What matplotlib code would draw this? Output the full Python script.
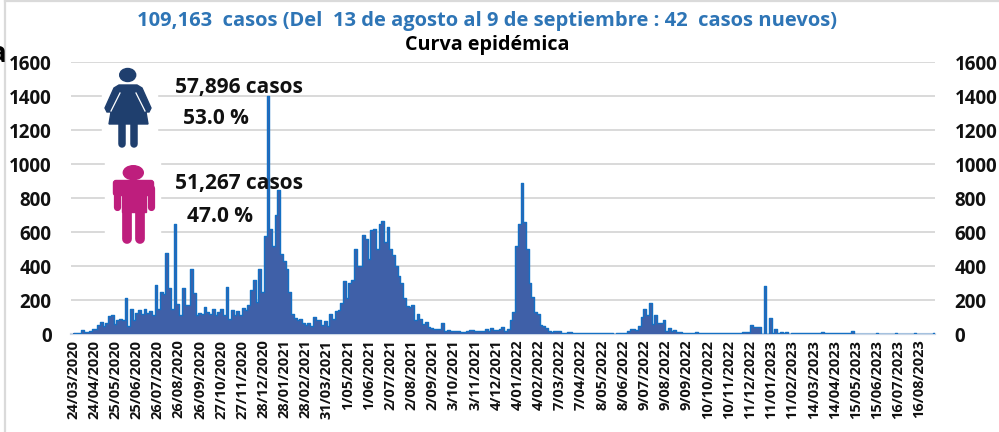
import numpy as np
import matplotlib
matplotlib.use("Agg")
import matplotlib.pyplot as plt
from matplotlib.patches import Ellipse, Polygon, Rectangle, FancyBboxPatch

# casos in steps of 4 days
casos = [
    5, 8, 3, 22, 10, 10, 20, 28, 28, 55,
    70, 45, 65, 105, 112, 60, 85, 90, 80, 210,
    45, 145, 85, 125, 140, 115, 150, 125, 135, 110,
    290, 145, 250, 235, 475, 270, 150, 650, 175, 110,
    270, 170, 170, 385, 240, 110, 125, 120, 160, 130,
    120, 150, 110, 130, 150, 110, 275, 90, 140, 110,
    135, 110, 155, 140, 170, 260, 320, 190, 385, 250,
    575, 1400, 620, 520, 700, 850, 470, 430, 380, 250,
    115, 95, 85, 90, 65, 55, 65, 45, 100, 85,
    85, 55, 75, 50, 120, 90, 135, 140, 185, 310,
    210, 300, 320, 500, 400, 400, 580, 560, 440, 610,
    620, 500, 650, 665, 540, 630, 500, 465, 400, 340,
    300, 210, 165, 160, 170, 80, 115, 90, 60, 70,
    40, 35, 30, 30, 30, 65, 20, 22, 20, 18,
    15, 15, 14, 14, 20, 24, 22, 20, 15, 20,
    18, 30, 15, 35, 25, 25, 30, 40, 15, 30,
    80, 130, 520, 650, 890, 660, 500, 300, 220, 130,
    120, 55, 50, 35, 20, 12, 20, 15, 15, 8,
    5, 10, 10, 8, 8, 5, 8, 6, 5, 4,
    6, 5, 8, 5, 4, 3, 3, 4, 2, 3,
    3, 4, 6, 15, 27, 27, 25, 50, 100, 150,
    110, 180, 60, 110, 65, 62, 80, 15, 35, 20,
    25, 12, 12, 8, 6, 5, 4, 4, 12, 4,
    3, 3, 3, 4, 5, 4, 3, 4, 4, 4,
    3, 4, 5, 6, 8, 12, 12, 10, 52, 40,
    40, 40, 0, 285, 0, 92, 5, 27, 4, 10,
    3, 10, 2, 3, 4, 3, 4, 3, 3, 4,
    3, 4, 3, 3, 10, 5, 3, 5, 3, 4,
    3, 3, 4, 8, 4, 15, 0, 0, 0, 0,
    0, 0, 0, 0, 6, 0, 0, 0, 0, 0,
    0, 6, 0, 0, 0, 0, 0, 0, 6, 0,
    0, 0, 0, 0, 0, 8,
]

fechas = [
    "24/03/2020", "24/04/2020", "25/05/2020", "25/06/2020", "26/07/2020", "26/08/2020",
    "26/09/2020", "27/10/2020", "27/11/2020", "28/12/2020", "28/01/2021", "28/02/2021",
    "31/03/2021", "1/05/2021", "1/06/2021", "2/07/2021", "2/08/2021", "2/09/2021",
    "3/10/2021", "3/11/2021", "4/12/2021", "4/01/2022", "4/02/2022", "7/03/2022",
    "7/04/2022", "8/05/2022", "8/06/2022", "9/07/2022", "9/08/2022", "9/09/2022",
    "10/10/2022", "10/11/2022", "11/12/2022", "11/01/2023", "11/02/2023", "14/03/2023",
    "14/04/2023", "15/05/2023", "15/06/2023", "16/07/2023", "16/08/2023",
]
yticks = [0, 200, 400, 600, 800, 1000, 1200, 1400, 1600]

titulo = "109,163  casos (Del  13 de agosto al 9 de septiembre : 42  casos nuevos)"
subtitulo = "Curva epidémica"

plt.rcParams["font.family"] = ["Open Sans", "DejaVu Sans"]
plt.rcParams["font.weight"] = "bold"

W, H = 999, 432
fig = plt.figure(figsize=(W / 100, H / 100), dpi=100, facecolor="white")

# plot area in pixels: x 71-935, y 62-334
ax = fig.add_axes([71 / W, (H - 334) / H, 864 / W, 272 / H])
dias = np.arange(len(casos)) * 4 + 1.5
ax.bar(dias, casos, width=4, color="#3F60A8", linewidth=0, zorder=3)
ax.step(dias, casos, where="mid", color="#1470C4", linewidth=1.0, zorder=4)

ax.set_xlim(-2.9, 1262.6)
ax.set_ylim(0, 1600)
ax.set_yticks(yticks)
ax.set_xticks(np.arange(len(fechas)) * 31)
ax.set_xticklabels(fechas, rotation=90, fontsize=10.5, fontweight="bold", color="#111111")
ax.tick_params(axis="x", length=0, pad=4)
ax.tick_params(axis="y", length=0, labelleft=True, labelright=True, labelsize=13.5, pad=14, labelcolor="#111111")
ax.grid(axis="y", color="#D9D9D9", linewidth=1.4, zorder=1)
ax.set_axisbelow(True)
for s in ax.spines.values():
    s.set_visible(False)
ax.axhline(0, color="#C9D6E6", linewidth=1.6, zorder=2, clip_on=False)

# overlay in image pixels for icons, text and the frame
ov = fig.add_axes([0, 0, 1, 1], facecolor="none")
ov.set_xlim(0, W)
ov.set_ylim(H, 0)
ov.axis("off")

# frame remains of the pasted slide
ov.plot([5, 5], [0, H], color="#DADADA", linewidth=1.6)
ov.plot([5, W], [0.8, 0.8], color="#DADADA", linewidth=1.6)

# white boxes behind the icons
ov.add_patch(Rectangle((102, 65), 55, 87, color="white", zorder=2))
ov.add_patch(Rectangle((105, 160), 55, 88, color="white", zorder=2))

# woman
azul = "#1F3F6E"
ov.add_patch(Ellipse((127.7, 75), 16, 13, color=azul, zorder=3))
ov.add_patch(Polygon([(119, 85), (137, 85), (142, 88), (151, 108), (149, 112), (146, 112), (148, 124),
                      (109, 124), (111, 112), (107, 112), (105, 108), (114, 88)],
                     closed=True, color=azul, zorder=3))
ov.plot([122, 122], [122, 144], color=azul, linewidth=5.4, solid_capstyle="round", zorder=3)
ov.plot([134, 134], [122, 144], color=azul, linewidth=5.4, solid_capstyle="round", zorder=3)
ov.plot([120, 111], [93, 111], color="white", linewidth=0.9, zorder=4)
ov.plot([136, 145], [93, 111], color="white", linewidth=0.9, zorder=4)

# man
rosa = "#BE1E7D"
ov.add_patch(Ellipse((133.3, 172.7), 20, 14, color=rosa, zorder=3))
ov.add_patch(FancyBboxPatch((116, 183), 35, 10, boxstyle="round,pad=2.5", color=rosa, zorder=3))
ov.add_patch(Rectangle((122, 186), 23.5, 26, color=rosa, zorder=3))
ov.plot([117, 117], [188, 207], color=rosa, linewidth=5.2, solid_capstyle="round", zorder=3)
ov.plot([150.5, 150.5], [188, 207], color=rosa, linewidth=5.2, solid_capstyle="round", zorder=3)
ov.plot([127.3, 127.3], [208, 239], color=rosa, linewidth=7, solid_capstyle="round", zorder=3)
ov.plot([140, 140], [208, 239], color=rosa, linewidth=7, solid_capstyle="round", zorder=3)

# texts
ov.text(487, 21, titulo, color="#2E75B6", fontsize=14.5, ha="center", va="center", zorder=6)
ov.text(487, 45, subtitulo, color="black", fontsize=14.2, ha="center", va="center", zorder=6)
ov.text(6.5, 54, "a", color="black", fontsize=20, ha="right", va="center", zorder=6)
ov.text(239, 87, "57,896 casos", color="#111111", fontsize=15, ha="center", va="center", zorder=6)
ov.text(216, 119, "53.0 %", color="#111111", fontsize=15, ha="center", va="center", zorder=6)
ov.text(239, 184, "51,267 casos", color="#111111", fontsize=15, ha="center", va="center", zorder=6)
ov.text(220, 217, "47.0 %", color="#111111", fontsize=15, ha="center", va="center", zorder=6)

fig.savefig("out.png", dpi=100)
